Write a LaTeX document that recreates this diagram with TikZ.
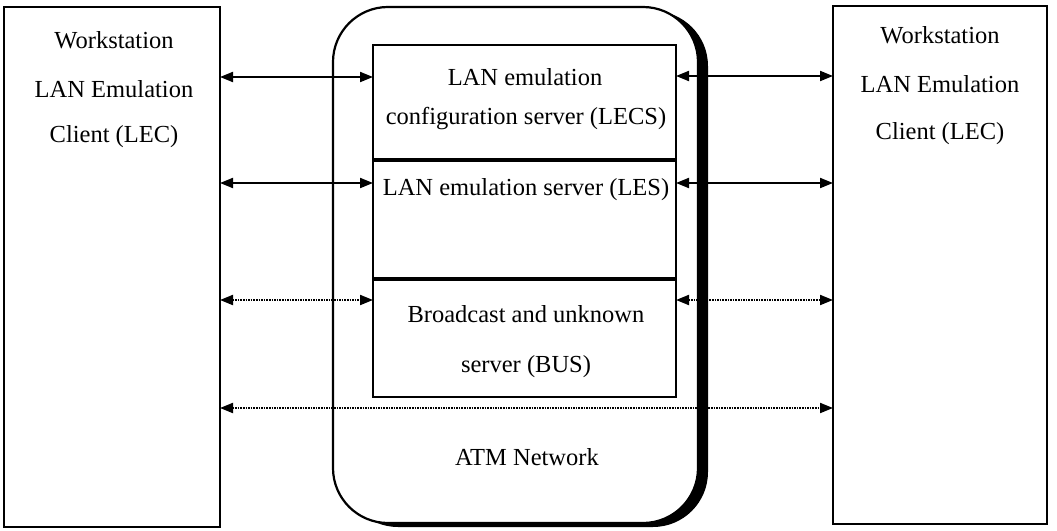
\documentclass[tikz,border=0pt]{standalone}
\usepackage{fontspec}
\setmainfont{Liberation Serif}
\usetikzlibrary{arrows.meta,shadows}

\begin{document}
\begin{tikzpicture}[x=1pt,y=-1pt,
  box/.style={draw,line width=2.2pt,inner sep=0pt,outer sep=0pt},
  lbl/.style={font=\fontsize{24.5}{28}\selectfont,anchor=base,inner sep=0pt},
  conn/.style={line width=2pt,{Triangle[length=13pt,width=10pt]}-{Triangle[length=13pt,width=10pt]}},
  dotconn/.style={conn,dash pattern=on 1.6pt off 1pt}]
\useasboundingbox (0,0) rectangle (1057,530);

% client workstations
\node[box,minimum width=216pt,minimum height=520pt] (lec1) at (112,267) {};
\node[box,minimum width=214pt,minimum height=518pt] (lec2) at (940,265) {};

% ATM network with its shadow
\node[box,fill=white,rounded corners=55pt,minimum width=365pt,minimum height=516pt,
      drop shadow={shadow xshift=10pt,shadow yshift=-4pt,fill=black,opacity=1}] (atm) at (515.5,265) {};

% servers
\node[box,minimum width=303pt,minimum height=115pt] (lecs) at (524.5,102.5) {};
\node[box,minimum width=303pt,minimum height=119pt] (les) at (524.5,219.5) {};
\node[box,minimum width=303pt,minimum height=118pt] (bus) at (524.5,338) {};
\draw[line width=3.6pt] (lecs.south west) -- (lecs.south east);
\draw[line width=3.6pt] (bus.north west) -- (bus.north east);

% labels
\node[lbl] (w1a) at (114,48) {Workstation};
\node[lbl] (w1b) at (114,97) {LAN Emulation};
\node[lbl] (w1c) at (114,142) {Client (LEC)};
\node[lbl] (w2a) at (940,43) {Workstation};
\node[lbl] (w2b) at (940,92) {LAN Emulation};
\node[lbl] (w2c) at (940,139) {Client (LEC)};
\node[lbl] (t1a) at (525,85) {LAN emulation};
\node[lbl] (t1b) at (526,124) {configuration server (LECS)};
\node[lbl] (t2) at (526,195) {LAN emulation server (LES)};
\node[lbl] (t3a) at (526,322) {Broadcast and unknown};
\node[lbl] (t3b) at (526,372) {server (BUS)};
\node[lbl] (t4) at (527,465) {ATM Network};

% connections
\draw[conn] (lec1.east |- 0,77) -- (lecs.west |- 0,77);
\draw[conn] (lecs.east |- 0,76) -- (lec2.west |- 0,76);
\draw[conn] (lec1.east |- 0,183) -- (les.west |- 0,183);
\draw[conn] (les.east |- 0,183) -- (lec2.west |- 0,183);
\draw[dotconn] (lec1.east |- 0,300) -- (bus.west |- 0,300);
\draw[dotconn] (bus.east |- 0,300) -- (lec2.west |- 0,300);
\draw[dotconn] (lec1.east |- 0,408) -- (lec2.west |- 0,408);
\end{tikzpicture}
\end{document}
